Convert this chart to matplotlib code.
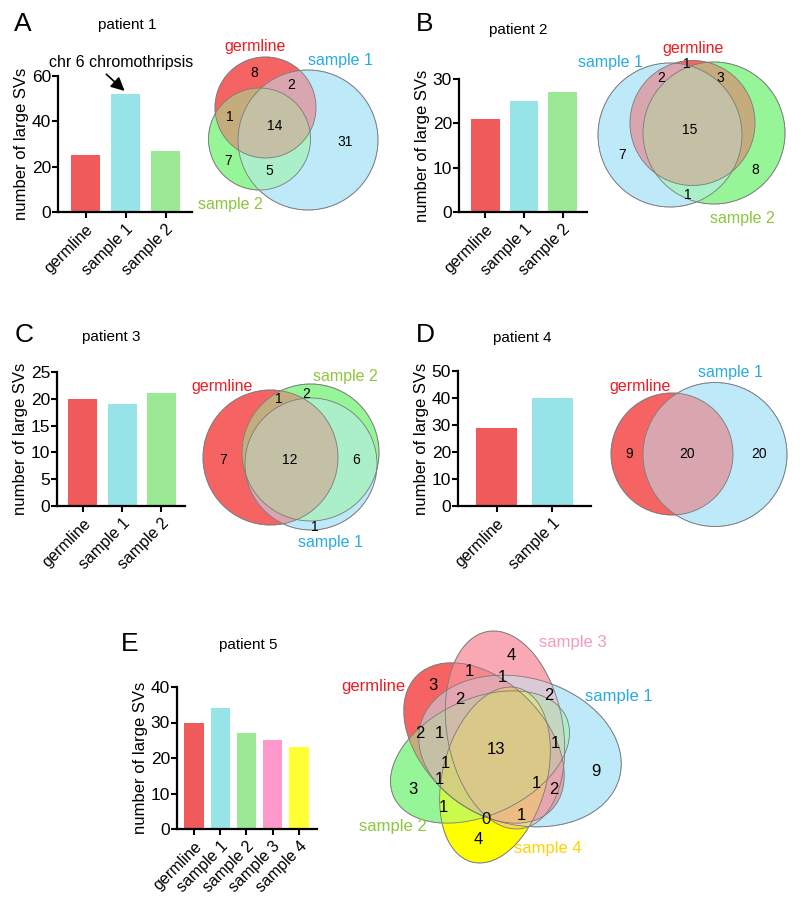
import numpy as np
import matplotlib
matplotlib.use("Agg")
import matplotlib.pyplot as plt
from matplotlib.colors import to_rgb
from matplotlib.patches import Ellipse

plt.rcParams['font.family'] = ['Liberation Sans', 'DejaVu Sans']

# ---- data ----
cats_3 = ['germline', 'sample 1', 'sample 2']
cats_2 = ['germline', 'sample 1']
cats_5 = ['germline', 'sample 1', 'sample 2', 'sample 3', 'sample 4']

bars_p1 = [25, 52, 27]
bars_p2 = [21, 25, 27]
bars_p3 = [20, 19, 21]
bars_p4 = [29, 40]
bars_p5 = [30, 34, 27, 25, 23]

venn_p1 = [8, 2, 1, 14, 31, 7, 5]
venn_p2 = [1, 2, 3, 15, 7, 8, 1]
venn_p3 = [1, 2, 7, 12, 6, 1]
venn_p4 = [9, 20, 20]
venn_p5 = [4, 1, 1, 3, 2, 2, 2, 1, 13, 1, 1, 9, 1, 3, 1, 2, 1, 0, 1, 4]

bar_col = {'germline': '#f05a5a', 'sample 1': '#96e3e8', 'sample 2': '#9be895',
           'sample 3': '#ff99cc', 'sample 4': '#ffff33'}
set_col = {'germline': '#f56464', 'sample 1': '#bee9fa', 'sample 2': '#96f596',
           'sample 3': '#faaab4', 'sample 4': '#ffff00'}
txt_col = {'germline': '#ed1c24', 'sample 1': '#29abe2', 'sample 2': '#8cc63f',
           'sample 3': '#f49ac1', 'sample 4': '#ffd200'}

W, H = 800, 908
fig = plt.figure(figsize=(W / 100, H / 100), dpi=100)

ov = fig.add_axes([0, 0, 1, 1])
ov.set_xlim(0, W)
ov.set_ylim(H, 0)
ov.axis('off')


def bar_panel(x0, y0, x1, y1, cats, vals, ymax, step, xlim):
    ax = fig.add_axes([x0 / W, 1 - y1 / H, (x1 - x0) / W, (y1 - y0) / H])
    ax.bar(range(len(cats)), vals, width=0.74, color=[bar_col[c] for c in cats])
    ax.set_xlim(*xlim)
    ax.set_ylim(0, ymax)
    ax.set_yticks(np.arange(0, ymax + 1, step))
    ax.set_xticks(range(len(cats)))
    ax.set_xticklabels(cats, rotation=45, ha='right', rotation_mode='anchor', fontsize=11.5)
    ax.tick_params(axis='y', labelsize=12.5, width=1.5, length=4, pad=1)
    ax.tick_params(axis='x', width=1.5, length=4, pad=3)
    ax.set_ylabel('number of large SVs', fontsize=12, labelpad=2)
    for s in ['top', 'right']:
        ax.spines[s].set_visible(False)
    for s in ['left', 'bottom']:
        ax.spines[s].set_linewidth(1.6)
    ax.patch.set_alpha(0)
    return ax


def venn(shapes, names, box):
    x0, x1, y0, y1 = box
    xs = np.arange(x0, x1, 0.5) + 0.25
    ys = np.arange(y0, y1, 0.5) + 0.25
    X, Y = np.meshgrid(xs, ys)
    acc = np.zeros(X.shape + (3,))
    n = np.zeros(X.shape)
    for (cx, cy, w, h, ang), nm in zip(shapes, names):
        t = np.deg2rad(ang)
        dx, dy = X - cx, Y - cy
        u = dx * np.cos(t) + dy * np.sin(t)
        v = -dx * np.sin(t) + dy * np.cos(t)
        m = (u / (w / 2)) ** 2 + (v / (h / 2)) ** 2 <= 1
        acc[m] += to_rgb(set_col[nm])
        n += m
    img = np.ones(X.shape + (4,))
    img[..., :3] = acc / np.maximum(n, 1)[..., None]
    img[..., 3] = (n > 0).astype(float)
    ov.imshow(img, extent=(x0, x1, y1, y0), origin='upper', aspect='auto',
              interpolation='bilinear', zorder=1)
    for cx, cy, w, h, ang in shapes:
        ov.add_patch(Ellipse((cx, cy), w, h, angle=ang, fill=False,
                             ec='#7a7a7a', lw=0.6, zorder=2))


def numbers(vals, pos, size):
    for v, (x, y) in zip(vals, pos):
        ov.text(x, y, str(v), fontsize=size, ha='center', va='center', zorder=3)


def name_labels(items, size=11.5):
    for nm, x, y in items:
        ov.text(x, y, nm, color=txt_col[nm], fontsize=size, ha='center', va='center', zorder=3)


def heading(letter, lx, ly, title, tx, ty):
    ov.text(lx, ly, letter, fontsize=19, ha='left', va='center')
    ov.text(tx, ty, title, fontsize=11, ha='center', va='center')


# ---- A ----
heading('A', 14, 24, 'patient 1', 127, 25)
axA = bar_panel(58, 76, 192, 212, cats_3, bars_p1, 60, 20, (-0.69, 2.66))
axA.annotate('chr 6 chromothripsis', xy=(1, 53), xytext=(121, 63), textcoords=ov.transData,
             ha='center', va='center', fontsize=11.5,
             arrowprops=dict(arrowstyle='-|>,head_length=0.7,head_width=0.35', color='k',
                             lw=1.2, relpos=(0.37, 0.0), shrinkA=1, shrinkB=1))
venn([(265.5, 107.5, 101, 101, 0), (308, 140, 140, 140, 0), (259.5, 139, 102, 102, 0)],
     ['germline', 'sample 1', 'sample 2'], (200, 385, 50, 215))
numbers(venn_p1, [(254, 73), (291, 85), (230, 117), (275, 126), (345, 142), (228, 161), (269, 171)], 10)
name_labels([('germline', 255, 47), ('sample 1', 340, 60), ('sample 2', 230, 205)])

# ---- B ----
heading('B', 416, 24, 'patient 2', 518, 30)
bar_panel(459, 79, 587, 212, cats_3, bars_p2, 30, 10, (-0.68, 2.63))
venn([(670, 135, 144, 144, 0), (692.5, 123, 125, 125, 0), (714, 133, 142, 142, 0)],
     ['sample 1', 'germline', 'sample 2'], (590, 795, 55, 215))
numbers(venn_p2, [(687, 64), (661, 78), (720, 78), (690, 130), (622, 155), (755, 170), (688, 195)], 10)
name_labels([('sample 1', 610, 62), ('germline', 693, 49), ('sample 2', 742, 218)])

# ---- C ----
heading('C', 15, 335, 'patient 3', 111, 337)
bar_panel(57, 372, 185, 506, cats_3, bars_p3, 25, 5, (-0.66, 2.6))
venn([(270.5, 457.5, 135, 135, 0), (310.5, 452.5, 137, 137, 0), (311, 464, 132, 132, 0)],
     ['germline', 'sample 2', 'sample 1'], (200, 385, 380, 535))
numbers(venn_p3, [(279, 399), (306, 394), (223, 460), (290, 460), (356, 460), (315, 527)], 10)
name_labels([('germline', 222, 387), ('sample 2', 345, 377), ('sample 1', 330, 542)])

# ---- D ----
heading('D', 416, 335, 'patient 4', 522, 338)
bar_panel(458, 371, 591, 506, cats_2, bars_p4, 50, 10, (-0.69, 1.69))
venn([(672, 454, 122, 122, 0), (715, 454.5, 144, 144, 0)],
     ['germline', 'sample 1'], (605, 795, 375, 535))
numbers(venn_p4, [(629, 454), (687, 454), (759, 454)], 10)
name_labels([('germline', 640, 387), ('sample 1', 730, 372)])

# ---- E ----
heading('E', 121, 644, 'patient 5', 248, 645)
bar_panel(177, 687, 317, 829, cats_5, bars_p5, 40, 10, (-0.65, 4.69))
venn([(495, 775, 180, 104, -75), (520, 751, 206, 147, 15), (480, 757, 190, 116, -25),
      (505, 730, 200, 116, 80), (484, 743, 190, 124, 45)],
     ['sample 4', 'sample 1', 'sample 2', 'sample 3', 'germline'], (375, 635, 620, 880))
numbers(venn_p5, [(511, 655), (469, 672), (502, 678), (433, 685), (460, 700), (549, 695),
                  (420, 733), (439, 733), (496, 749), (555, 743), (445, 764), (596, 772),
                  (439, 780), (413, 789), (536, 783), (554, 789), (443, 807), (486, 819),
                  (521, 815), (478, 839)], 12)
name_labels([('germline', 373, 686), ('sample 3', 573, 642), ('sample 1', 619, 696),
             ('sample 2', 393, 826), ('sample 4', 548, 848)], 12)

ov.set_xlim(0, W)
ov.set_ylim(H, 0)
fig.savefig('out.png', dpi=100)
